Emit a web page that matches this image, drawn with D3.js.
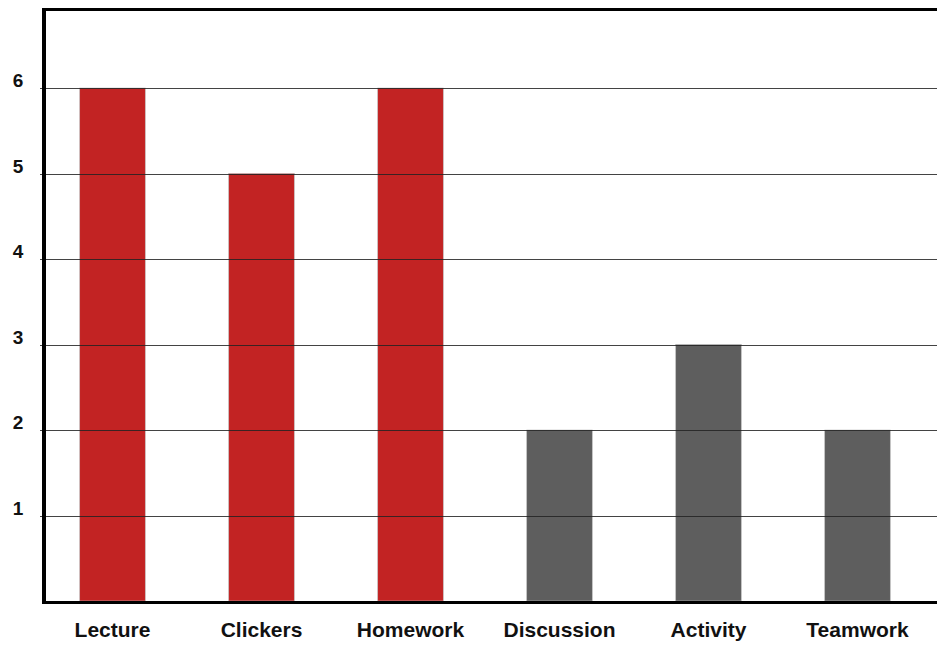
<!DOCTYPE html>
<html>
<head>
<meta charset="utf-8">
<script src="https://cdn.jsdelivr.net/npm/d3@7"></script>
<style>
  body { margin: 0; background: #fff; }
  svg { display: block; }
  text { font-family: "Liberation Sans", Arial, sans-serif; font-weight: bold; fill: #111; }
</style>
</head>
<body>
<svg id="chart" width="937" height="648"></svg>
<script>
const categories = ["Lecture", "Clickers", "Homework", "Discussion", "Activity", "Teamwork"];
const values = [6, 5, 6, 2, 3, 2];
const barColors = ["#c22323", "#c22323", "#c22323", "#5e5e5e", "#5e5e5e", "#5e5e5e"];
const yTicks = [1, 2, 3, 4, 5, 6];

const svg = d3.select("#chart");
const plotLeft = 44, plotRight = 937, plotTop = 8, plotBottom = 601;

const x = d3.scaleBand()
    .domain(categories)
    .range([38, 932])
    .paddingInner(0.56)
    .paddingOuter(0.28);

const y = d3.scaleLinear()
    .domain([0, 6])
    .range([plotBottom, 88]);

// bars
svg.append("g")
    .selectAll("rect")
    .data(categories)
    .join("rect")
    .attr("x", d => x(d))
    .attr("y", (d, i) => y(values[i]))
    .attr("width", x.bandwidth())
    .attr("height", (d, i) => y(0) - y(values[i]))
    .attr("fill", (d, i) => barColors[i])
    .attr("stroke", "#bbb")
    .attr("stroke-width", 0.6);

// gridlines drawn over the bars
svg.append("g")
    .selectAll("line")
    .data(yTicks)
    .join("line")
    .attr("x1", plotLeft - 4)
    .attr("x2", plotRight)
    .attr("y1", d => Math.round(y(d)) + 0.5)
    .attr("y2", d => Math.round(y(d)) + 0.5)
    .attr("stroke", "#222")
    .attr("stroke-opacity", 0.85)
    .attr("stroke-width", 1);

// y tick labels
svg.append("g")
    .selectAll("text")
    .data(yTicks)
    .join("text")
    .attr("x", 18)
    .attr("y", d => y(d) - 1)
    .attr("text-anchor", "middle")
    .attr("font-size", 19)
    .text(d => d);

// x labels
svg.append("g")
    .selectAll("text")
    .data(categories)
    .join("text")
    .attr("x", d => x(d) + x.bandwidth() / 2)
    .attr("y", 637)
    .attr("text-anchor", "middle")
    .attr("font-size", 21)
    .text(d => d);

// frame: top, left, bottom
svg.append("line").attr("x1", plotLeft).attr("x2", plotRight).attr("y1", plotTop + 1.5).attr("y2", plotTop + 1.5)
    .attr("stroke", "#000").attr("stroke-width", 3);
svg.append("line").attr("x1", plotLeft).attr("x2", plotLeft).attr("y1", plotTop).attr("y2", plotBottom + 3)
    .attr("stroke", "#000").attr("stroke-width", 4);
svg.append("line").attr("x1", plotLeft - 2).attr("x2", plotRight).attr("y1", plotBottom + 1.5).attr("y2", plotBottom + 1.5)
    .attr("stroke", "#000").attr("stroke-width", 3);
</script>
</body>
</html>
